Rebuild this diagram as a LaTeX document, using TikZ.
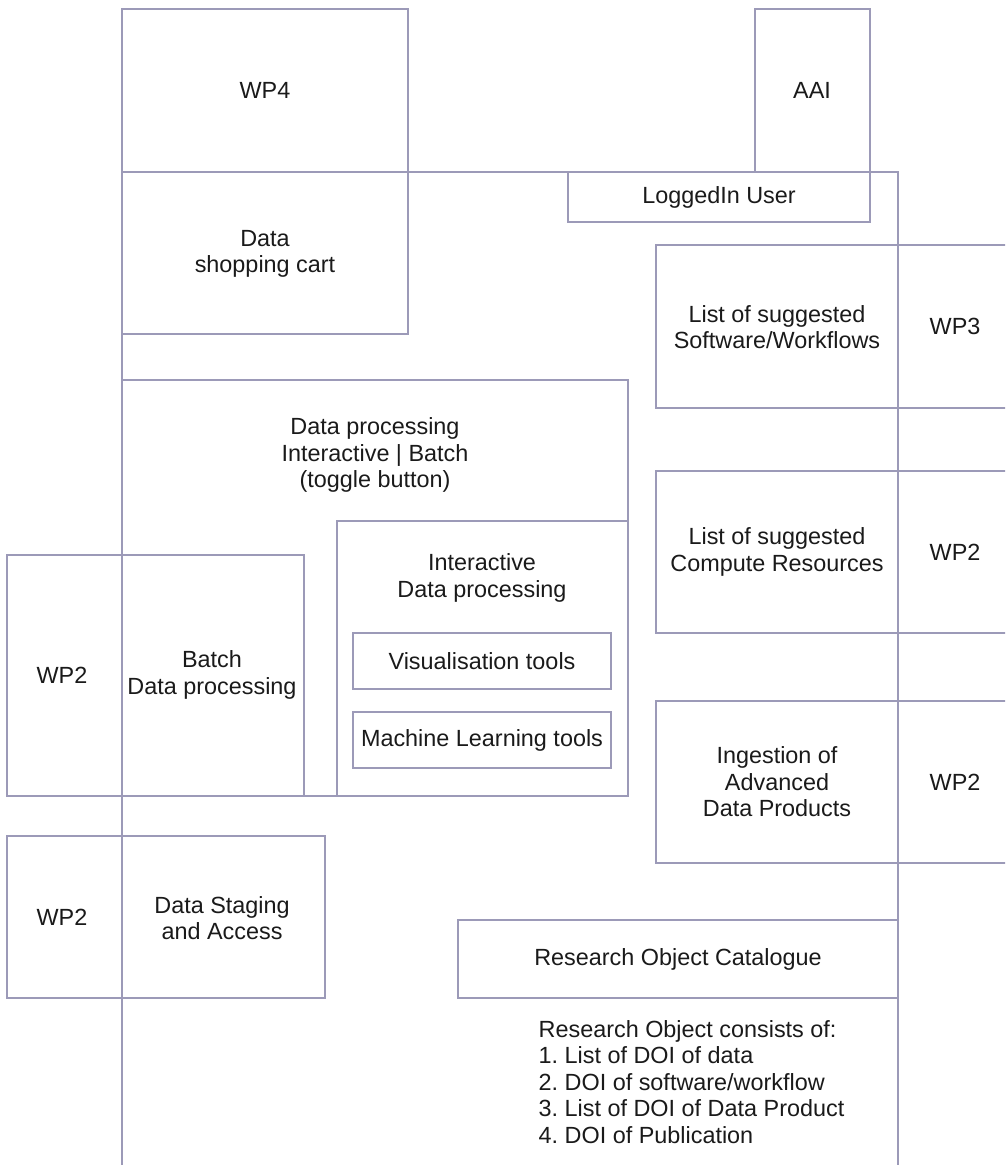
\documentclass[tikz,border=0pt]{standalone}
\usepackage{fontspec}
\setmainfont{Liberation Sans}
\frenchspacing
\usetikzlibrary{positioning}
\definecolor{frameline}{HTML}{9C9AB8}
\definecolor{labeltext}{HTML}{1A1A1A}

\begin{document}
\begin{tikzpicture}[x=0.5pt,y=-0.5pt,line width=0.65pt,
  every node/.style={text=labeltext,font=\fontsize{11.7}{13.2}\selectfont,align=center,inner sep=0pt}]
\clip (0,0) rectangle (1005,1165);
\begin{scope}[frameline]
% portal frame
\draw (122,1165) -- (122,172) -- (898,172) -- (898,1165);
% top row
\draw (122,9) rectangle (408,172);
\draw (755,9) rectangle (870,172);
\draw (568,172) rectangle (870,222);
\draw (122,172) rectangle (408,334);
% processing
\draw (122,380) rectangle (628,796);
\draw (337,521) rectangle (628,796);
\draw (7,555) rectangle (304,796);
\draw (353,633) rectangle (611,689);
\draw (353,712) rectangle (611,768);
% staging
\draw (7,836) rectangle (325,998);
% right column
\draw (656,245) rectangle (1010,408);
\draw (656,471) rectangle (1010,633);
\draw (656,701) rectangle (1010,863);
\draw (458,920) rectangle (898,998);
\end{scope}
\node (wpfour) at (265,90) {WP4};
\node (aai) at (812,90) {AAI};
\node (user) at (719,197) {LoggedIn User};
\node (cart) at (265,254) {Data\\shopping cart};
\node (dproc) at (375,455) {Data processing\\Interactive | Batch\\(toggle button)};
\node (inter) at (482,578) {Interactive\\Data processing};
\node (vis) at (482,661) {Visualisation tools};
\node (mlt) at (482,740) {Machine Learning tools};
\node (wpbatch) at (62,675) {WP2};
\node (batch) at (212,675) {Batch\\Data processing};
\node (wpstage) at (62,917) {WP2};
\node (stage) at (222,918) {Data Staging\\and Access};
\node (soft) at (777,327) {List of suggested\\Software/Workflows};
\node (wpthree) at (955,326) {WP3};
\node (comp) at (777,552) {List of suggested\\Compute Resources};
\node (wpcomp) at (955,552) {WP2};
\node (ingest) at (777,782) {Ingestion of\\Advanced\\Data Products};
\node (wpingest) at (955,782) {WP2};
\node (roc) at (678,959) {Research Object Catalogue};
\node[anchor=west,align=left] (rolist) at (538,1082) {Research Object consists of:\\1. List of DOI of data\\2. DOI of software/workflow\\3. List of DOI of Data Product\\4. DOI of Publication};
\end{tikzpicture}
\end{document}
